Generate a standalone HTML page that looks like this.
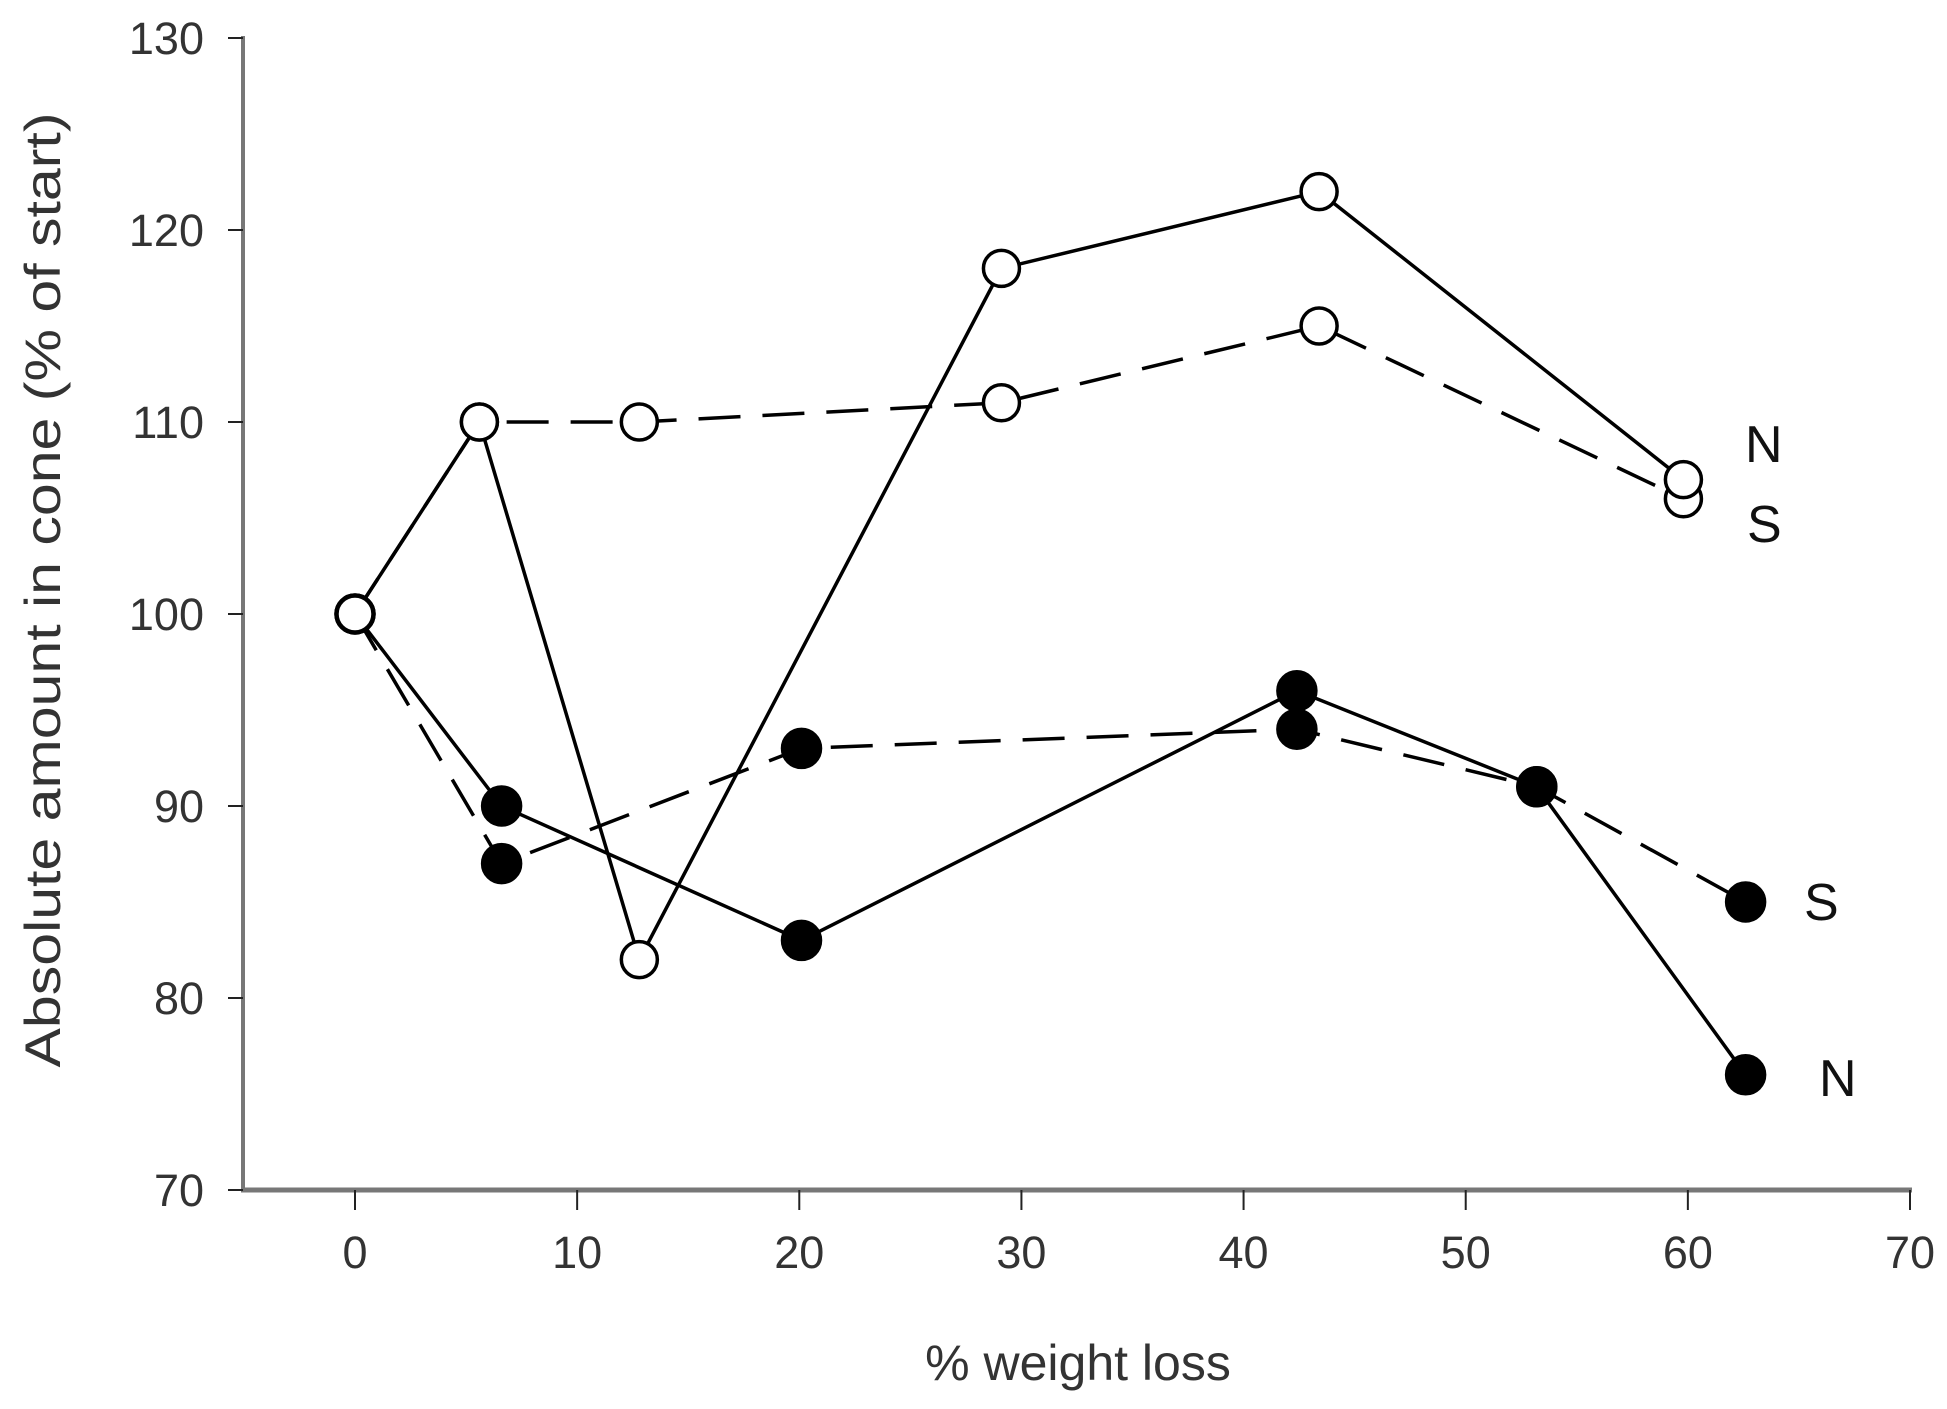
<!DOCTYPE html>
<html><head><meta charset="utf-8"><style>
html,body{margin:0;padding:0;background:#fff;}
svg{display:block;font-family:"Liberation Sans",Arial,sans-serif;}
</style></head><body>
<svg id="chart" width="1947" height="1409" viewBox="0 0 1947 1409">
<g id="axes"></g>
<g id="series"></g>
<text x="1078" y="1380" font-size="50" fill="#333" text-anchor="middle">% weight loss</text>
<text transform="translate(60,590) rotate(-90)" font-size="50" fill="#333" text-anchor="middle" textLength="955" lengthAdjust="spacingAndGlyphs">Absolute amount in cone (% of start)</text>
</svg>
<script>
const xTicks = [0,10,20,30,40,50,60,70];
const yTicks = [70,80,90,100,110,120,130];
const openX = [0,5.6,12.8,29.1,43.4,59.8];
const openN = [100,110,82,118,122,107];
const openS = [100,110,110,111,115,106];
const filledX = [0,6.6,20.1,42.4,53.2,62.6];
const filledN = [100,90,83,96,91,76];
const filledS = [100,87,93,94,91,85];
const labels = [["N",1745,462,"label-open-n"],["S",1747,542,"label-open-s"],["S",1804,920,"label-filled-s"],["N",1819,1096,"label-filled-n"]];

const NS="http://www.w3.org/2000/svg";
const x = v => 355 + (v-0)*(1910-355)/70;
const y = v => 1190 - (v-70)*(1190-38)/60;
function mk(tag, attrs, parent){const e=document.createElementNS(NS,tag);for(const k in attrs)e.setAttribute(k,attrs[k]);parent.appendChild(e);return e;}
const axes=document.getElementById('axes'), ser=document.getElementById('series');
let e=mk('line',{x1:243,y1:36,x2:243,y2:1192,stroke:'#777','stroke-width':4},axes);


e=mk('line',{x1:241,y1:1190,x2:1912,y2:1190,stroke:'#777','stroke-width':5},axes);


xTicks.forEach(t=>{
  let l=mk('line',{x1:x(t),y1:1190,x2:x(t),y2:1210,stroke:'#222','stroke-width':2},axes);
  
  
  let tx=mk('text',{x:x(t),y:1268,'font-size':45,fill:'#333','text-anchor':'middle'},axes);
  tx.textContent=t;
  
  
});
yTicks.forEach(t=>{
  let l=mk('line',{x1:228,y1:y(t),x2:243,y2:y(t),stroke:'#222','stroke-width':2},axes);
  
  
  let tx=mk('text',{x:204,y:y(t)+16,'font-size':45,fill:'#333','text-anchor':'end'},axes);
  tx.textContent=t;
  
  
});
function series(xs, ys, dashed, filled, name){
  const g=mk('g',{},ser);
  
  
  const p=mk('polyline',{points:xs.map((v,i)=>x(v)+','+y(ys[i])).join(' '),fill:'none',stroke:'#000','stroke-width':3.5},g);
  if(dashed) p.setAttribute('stroke-dasharray','42 22');
  
  
  xs.forEach((v,i)=>{
    const c=mk('circle',{cx:x(v),cy:y(ys[i]),r:filled?19:18,fill:filled?'#000':'#fff',stroke:'#000','stroke-width':3.5},g);
    
    
  });
}
series(filledX, filledS, true, true, 'filled-s-series');
series(filledX, filledN, false, true, 'filled-n-series');
series(openX, openS, true, false, 'open-s-series');
series(openX, openN, false, false, 'open-n-series');
labels.forEach(l=>{
  const t=mk('text',{x:l[1],y:l[2],'font-size':52,fill:'#111'},ser);
  t.textContent=l[0];
  
  
});
</script>
</body></html>
